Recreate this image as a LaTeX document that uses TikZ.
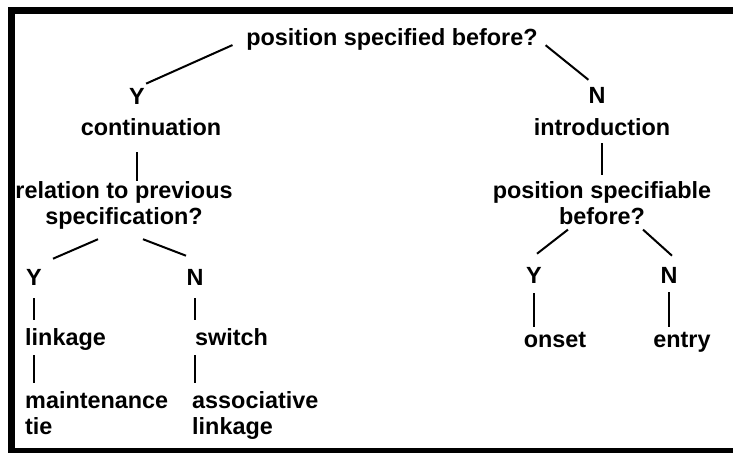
\documentclass[tikz,border=0pt]{standalone}
\usepackage{fontspec}
\setmainfont{Liberation Sans}
\usetikzlibrary{calc}

\begin{document}
\begin{tikzpicture}[x=1pt, y=-1pt,
		lbl/.style={inner sep=0, font=\bfseries\fontsize{23.4}{26}\selectfont, anchor=base},
		lblleft/.style={lbl, anchor=base west},
		twoline/.style={lbl, align=center, anchor=north},
		twoleft/.style={lbl, align=left, anchor=north west},
		branch/.style={line width=2pt}]
		%%%%% FRAME %%%%%
		
		\useasboundingbox (0, 0) rectangle (733, 453);
		\fill[white] (0, 0) rectangle (733, 453);
		\fill[black] (8, 7) rectangle (733, 14);
		\fill[black] (8, 7) rectangle (15, 453);
		\fill[black] (8, 448) rectangle (733, 453);
		
		%%%%% NODES %%%%%
		
		\node[lbl] (root) at (392, 45) {position specified before?};
		
		\node[lbl] (yes1) at (137, 104) {Y};
		\node[lbl] (cont) at (151, 135) {continuation};
		\node[twoline] (rel) at (124, 181) {relation to previous\\specification?};
		
		\node[lbl] (no1) at (597, 103) {N};
		\node[lbl] (intro) at (602, 135) {introduction};
		\node[twoline] (spec) at (602, 181) {position specifiable\\before?};
		
		\node[lbl] (yes2) at (34, 285) {Y};
		\node[lblleft] (link) at (25, 345) {linkage};
		\node[twoleft] (maint) at (25, 391) {maintenance\\tie};
		
		\node[lbl] (no2) at (195, 285) {N};
		\node[lblleft] (switch) at (195, 345) {switch};
		\node[twoleft] (assoc) at (192, 391) {associative\\linkage};
		
		\node[lbl] (yes3) at (534, 283) {Y};
		\node[lbl] (onset) at (555, 347) {onset};
		\node[lbl] (no3) at (669, 283) {N};
		\node[lbl] (entry) at (682, 347) {entry};
		
		%%%%% BRANCHES %%%%%
		
		\draw[branch, shorten <=15pt, shorten >=10pt] (root.west) -- (yes1.north);
		\draw[branch, shorten <=10pt, shorten >=11pt] (root.east) -- (no1.north);
		\draw[branch, shorten <=17pt] (yes1 |- cont.south) -- (yes1 |- rel.north);
		\draw[branch, shorten <=8pt, shorten >=6pt] (intro.south) -- (spec.north);
		
		\draw[branch] ($(rel.south)+(-26, 10)$) -- ($(yes2.north)+(19, -10)$);
		\draw[branch] ($(rel.south)+(19, 10)$) -- ($(no2.north)+(-9, -13)$);
		\draw[branch] ($(spec.south)+(-34, 5)$) -- ($(yes3.north)+(3, -13)$);
		\draw[branch] ($(spec.south)+(41, 5)$) -- ($(no3.north)+(3, -11)$);
		
		\draw[branch, shorten <=13pt, shorten >=8pt] (yes2.south) -- (yes2 |- link.north);
		\draw[branch, shorten <=13pt, shorten >=8pt] (no2.south) -- (no2 |- switch.north);
		\draw[branch, shorten <=5pt, shorten >=8pt] (yes2 |- link.south) -- (yes2 |- maint.north);
		\draw[branch, shorten <=10pt, shorten >=8pt] (no2 |- switch.south) -- (no2 |- assoc.north);
		\draw[branch, shorten <=10pt, shorten >=5pt] (yes3.south) -- (yes3 |- onset.north);
		\draw[branch, shorten <=9pt, shorten >=5pt] (no3.south) -- (no3 |- entry.north);
		
		%%%%% END %%%%%
	\end{tikzpicture}
\end{document}
